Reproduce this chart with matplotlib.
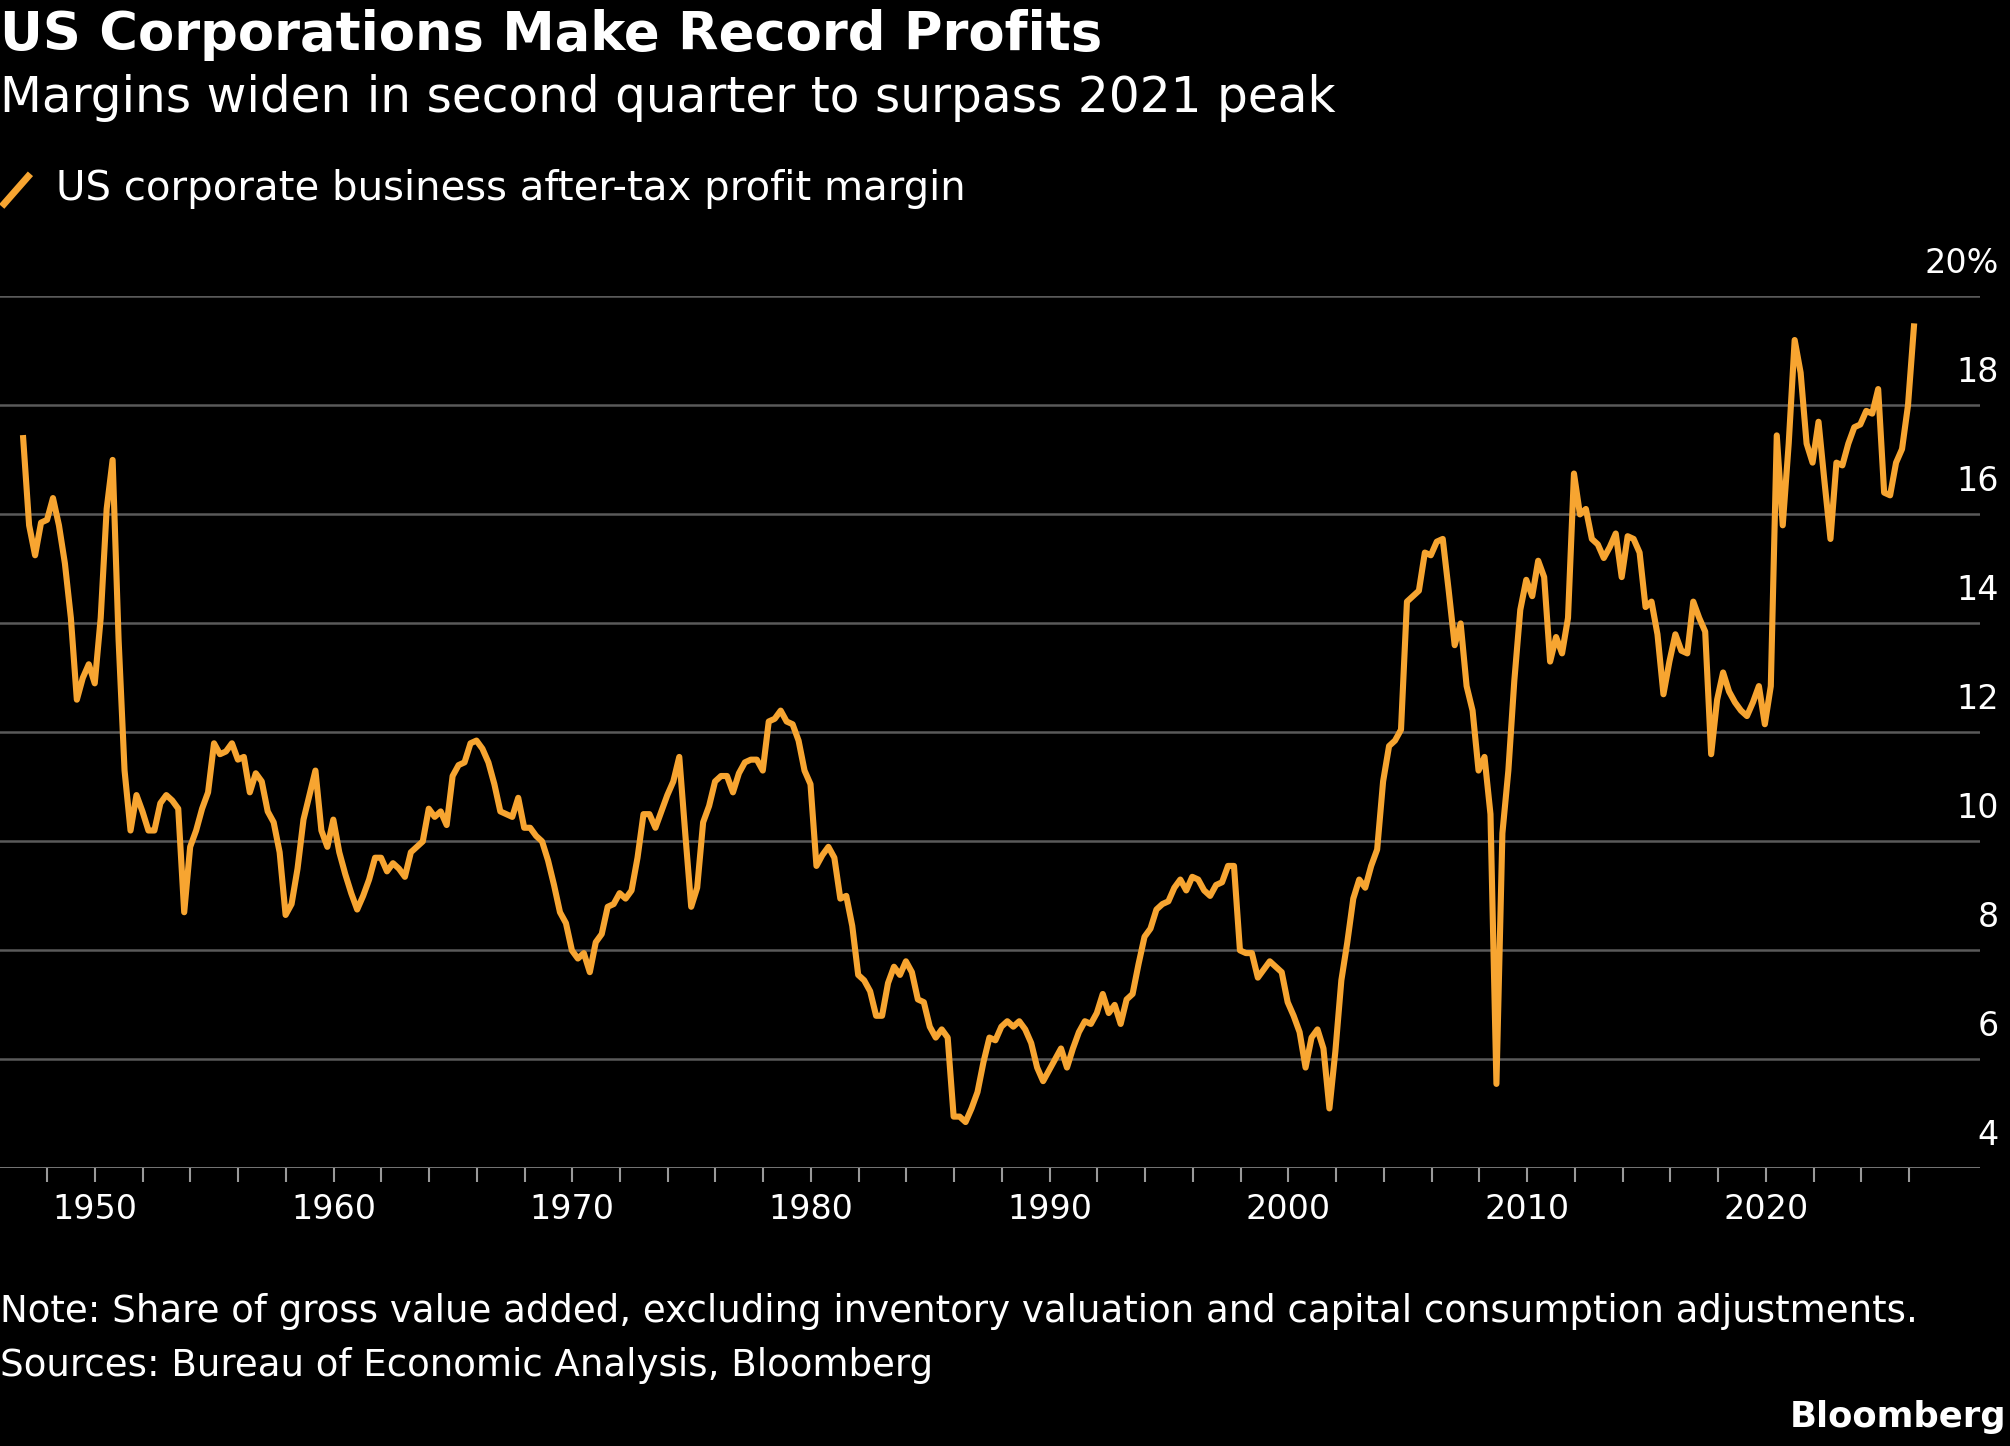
import numpy as np
import matplotlib
matplotlib.use("Agg")
import matplotlib.pyplot as plt

margin = [17.4,15.8,15.25,15.85,15.9,16.3,15.8,15.1,14.1,12.6,13.0,13.25,12.9,14.1,16.1,17.0,13.7,11.3,10.2,10.85,
10.55,10.2,10.2,10.7,10.85,10.75,10.6,8.7,9.9,10.2,10.6,10.9,11.8,11.6,11.65,11.8,11.5,11.55,10.9,11.25,
11.1,10.55,10.35,9.8,8.65,8.85,9.5,10.4,10.85,11.3,10.2,9.9,10.4,9.8,9.4,9.05,8.75,9.0,9.3,9.7,
9.7,9.45,9.6,9.5,9.35,9.8,9.9,10.0,10.6,10.45,10.55,10.3,11.2,11.4,11.45,11.8,11.85,11.7,11.45,11.05,
10.55,10.5,10.45,10.8,10.25,10.25,10.1,10.0,9.65,9.2,8.7,8.5,8.0,7.85,7.95,7.6,8.15,8.3,8.8,8.85,
9.05,8.95,9.1,9.7,10.5,10.5,10.25,10.55,10.85,11.1,11.55,10.15,8.8,9.15,10.35,10.65,11.1,11.2,11.2,10.9,
11.25,11.45,11.5,11.5,11.3,12.2,12.25,12.4,12.2,12.15,11.85,11.3,11.05,9.55,9.75,9.9,9.7,8.95,9.0,8.45,
7.55,7.45,7.25,6.8,6.8,7.4,7.7,7.55,7.8,7.6,7.1,7.05,6.6,6.4,6.55,6.4,4.95,4.95,4.85,5.1,
5.4,5.95,6.4,6.35,6.6,6.7,6.6,6.7,6.55,6.3,5.85,5.6,5.8,6.0,6.2,5.85,6.2,6.5,6.7,6.65,
6.85,7.2,6.85,7.0,6.65,7.1,7.2,7.75,8.25,8.4,8.75,8.85,8.9,9.15,9.3,9.1,9.35,9.3,9.1,9.0,
9.2,9.25,9.55,9.55,8.0,7.95,7.95,7.5,7.65,7.8,7.7,7.6,7.05,6.8,6.5,5.85,6.4,6.55,6.2,5.1,
6.15,7.45,8.15,8.95,9.3,9.15,9.55,9.85,11.1,11.75,11.85,12.05,14.4,14.5,14.6,15.3,15.25,15.5,15.55,14.6,
13.6,14.0,12.85,12.4,11.3,11.55,10.5,5.55,10.15,11.3,12.95,14.25,14.8,14.5,15.15,14.85,13.3,13.75,13.45,14.1,
16.75,16.0,16.1,15.55,15.45,15.2,15.4,15.65,14.85,15.6,15.55,15.3,14.3,14.4,13.8,12.7,13.3,13.8,13.5,13.45,
14.4,14.1,13.85,11.6,12.6,13.1,12.75,12.55,12.4,12.3,12.55,12.85,12.15,12.85,17.45,15.8,17.3,19.2,18.6,17.3,
16.95,17.7,16.6,15.55,16.95,16.9,17.3,17.6,17.65,17.9,17.85,18.3,16.4,16.35,16.95,17.2,18.0,19.45]
start_year, end_year = 1947.0, 2026.2
years = np.linspace(start_year, end_year, len(margin))
y_ticks = [4, 6, 8, 10, 12, 14, 16, 18, 20]
y_labels = ["4", "6", "8", "10", "12", "14", "16", "18", "20%"]
x_labels = [1950, 1960, 1970, 1980, 1990, 2000, 2010, 2020]

BG = "black"; ORANGE = "#F7A531"; GRID = "#5a5a5a"
plt.rcParams['font.family'] = ['DejaVu Sans']
fig = plt.figure(figsize=(20.1, 14.46), dpi=100, facecolor=BG)
ax = fig.add_axes([0.0, 0.192, 0.985, 0.603], facecolor=BG)
ax.plot(years, margin, color=ORANGE, lw=4.4, solid_joinstyle='round')
ax.set_xlim(1946.03, 2028.96)
ax.set_ylim(4, 20)
for v in y_ticks[1:]:
    ax.axhline(v, color=GRID, lw=1.8, zorder=0)
ax.axhline(4, color="#9a9a9a", lw=1.8, zorder=0)
for v, l in zip(y_ticks, y_labels):
    ax.text(2028.96 + 0.8, v + 0.3, l, color="white", fontsize=24, ha="right", va="bottom")
for s in ax.spines.values():
    s.set_visible(False)
ax.set_yticks([])
ax.set_xticks(np.arange(1948, 2027, 2), minor=True)
ax.set_xticks(x_labels)
ax.set_xticklabels([str(x) for x in x_labels], color="white", fontsize=24)
ax.tick_params(axis='x', which='both', colors="#9a9a9a", length=10, width=1.5, labelcolor="white", pad=8)

fig.text(0.0, 0.976, "US Corporations Make Record Profits", color="white", fontsize=38, fontweight="bold", va="center")
fig.text(0.0, 0.932, "Margins widen in second quarter to surpass 2021 peak", color="white", fontsize=35, va="center")
fig.add_artist(matplotlib.lines.Line2D([0.002, 0.014], [0.859, 0.878], color=ORANGE, lw=5))
fig.text(0.028, 0.869, "US corporate business after-tax profit margin", color="white", fontsize=29, va="center")
fig.text(0.0, 0.093, "Note: Share of gross value added, excluding inventory valuation and capital consumption adjustments.",
         color="white", fontsize=26.7, va="center")
fig.text(0.0, 0.056, "Sources: Bureau of Economic Analysis, Bloomberg", color="white", fontsize=26.7, va="center")
fig.text(0.998, 0.02, "Bloomberg", color="white", fontsize=25.5, fontweight="bold", ha="right", va="center")
fig.savefig("out.png", dpi=100, facecolor=BG)
